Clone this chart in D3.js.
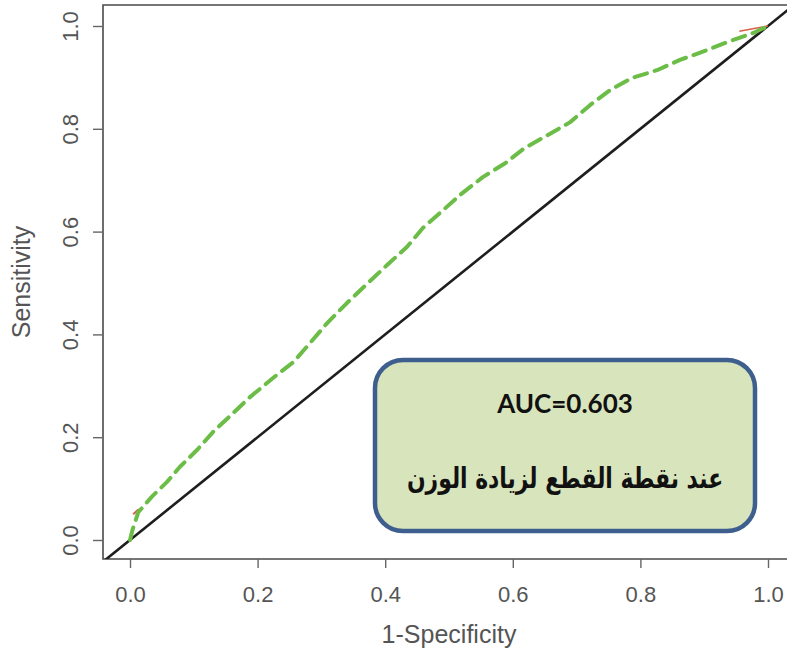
<!DOCTYPE html>
<html>
<head>
<meta charset="utf-8">
<script src="https://cdn.jsdelivr.net/npm/d3@7/dist/d3.min.js"></script>
<style>
html,body{margin:0;padding:0;background:#fff;}
svg{display:block;}
</style>
</head>
<body>
<svg id="chart" width="787" height="654"></svg>
<script>
// ---- data ----
const fpr = [0, 0.004, 0.013, 0.034, 0.058, 0.078, 0.105, 0.13, 0.16, 0.188, 0.23, 0.256, 0.282, 0.309, 0.34, 0.373, 0.403, 0.434, 0.459, 0.491, 0.517, 0.553, 0.588, 0.619, 0.655, 0.69, 0.721, 0.752, 0.787, 0.826, 0.862, 0.904, 0.937, 0.976, 1.0];
const tpr = [0, 0.02, 0.054, 0.084, 0.113, 0.142, 0.175, 0.21, 0.245, 0.278, 0.321, 0.346, 0.383, 0.422, 0.461, 0.5, 0.535, 0.57, 0.607, 0.642, 0.671, 0.706, 0.733, 0.763, 0.788, 0.813, 0.846, 0.875, 0.899, 0.914, 0.934, 0.953, 0.969, 0.986, 1.0];
const redStartX = [0.005, 0.012, 0.02];
const redStartY = [0.05, 0.058, 0.062];
const redEndX = [0.955, 0.978, 1.0];
const redEndY = [0.99, 0.995, 1.0];
const diagX = [-0.1, 1.1];
const diagY = [-0.1, 1.1];
const xTicks = [0, 0.2, 0.4, 0.6, 0.8, 1.0];
const yTicks = [0, 0.2, 0.4, 0.6, 0.8, 1.0];
const xTitle = "1-Specificity";
const yTitle = "Sensitivity";
const aucLabel = "AUC=0.603";
const noteLabel = "عند نقطة القطع لزيادة الوزن";

// ---- layout ----
const svg = d3.select("#chart");
const plot = {left: 103, top: 5, right: 795, bottom: 559};
const x = d3.scaleLinear().domain([0, 1]).range([130, 768]);
const y = d3.scaleLinear().domain([0, 1]).range([540, 26]);

svg.append("defs").append("clipPath").attr("id", "clip")
  .append("rect").attr("x", plot.left).attr("y", plot.top)
  .attr("width", plot.right - plot.left).attr("height", plot.bottom - plot.top);

const frameColor = "#4a4a4a";
const labelColor = "#555";
const axisFont = "'Liberation Sans', Arial, sans-serif";

// frame lines (top, left, bottom)
svg.append("path")
  .attr("d", `M${plot.right},${plot.top}H${plot.left}V${plot.bottom}H${plot.right}`)
  .attr("fill", "none").attr("stroke", frameColor).attr("stroke-width", 1.6);

// x axis
const gx = svg.append("g").attr("transform", `translate(0,${plot.bottom})`)
  .call(d3.axisBottom(x).tickValues(xTicks).tickFormat(d3.format(".1f")).tickSize(9).tickSizeOuter(0));
gx.select(".domain").remove();
gx.selectAll("line").attr("stroke", "#666").attr("stroke-width", 1.4);
gx.selectAll("text").attr("y", 43).attr("dy", 0)
  .attr("fill", labelColor).style("font-family", axisFont).style("font-size", "22px");

// y axis
const gy = svg.append("g").attr("transform", `translate(${plot.left},0)`)
  .call(d3.axisLeft(y).tickValues(yTicks).tickFormat(d3.format(".1f")).tickSize(10).tickSizeOuter(0));
gy.select(".domain").remove();
gy.selectAll("line").attr("stroke", "#666").attr("stroke-width", 1.4);
gy.selectAll("text").attr("x", 0).attr("y", -25).attr("dy", 0)
  .attr("transform", "rotate(-90)").attr("text-anchor", "middle")
  .attr("fill", labelColor).style("font-family", axisFont).style("font-size", "22px");

// axis titles
svg.append("text").attr("x", (plot.left + plot.right) / 2).attr("y", 643)
  .attr("text-anchor", "middle").attr("fill", labelColor)
  .style("font-family", axisFont).style("font-size", "25px").text(xTitle);
svg.append("text").attr("transform", `translate(30,${(plot.top + plot.bottom) / 2}) rotate(-90)`)
  .attr("text-anchor", "middle").attr("fill", labelColor)
  .style("font-family", axisFont).style("font-size", "25px").text(yTitle);

// plot contents
const g = svg.append("g").attr("clip-path", "url(#clip)");
const line = d3.line().x(d => x(d[0])).y(d => y(d[1]));

g.append("path").datum(d3.zip(diagX, diagY)).attr("d", line)
  .attr("fill", "none").attr("stroke", "#1e1e1e").attr("stroke-width", 2.6);

g.append("path").datum(d3.zip(redStartX, redStartY)).attr("d", line)
  .attr("fill", "none").attr("stroke", "#d9604a").attr("stroke-width", 2);
g.append("path").datum(d3.zip(redEndX, redEndY)).attr("d", line)
  .attr("fill", "none").attr("stroke", "#d9604a").attr("stroke-width", 1.5);

g.append("path").datum(d3.zip(fpr, tpr)).attr("d", line)
  .attr("fill", "none").attr("stroke", "#6cbd47").attr("stroke-width", 4)
  .attr("stroke-dasharray", "13,8").attr("stroke-linecap", "round").attr("stroke-linejoin", "round");

// annotation box
const box = {x: 375, y: 360, w: 380, h: 171};
svg.append("rect").attr("x", box.x).attr("y", box.y).attr("width", box.w).attr("height", box.h)
  .attr("rx", 28).attr("ry", 28)
  .attr("fill", "#d8e4bc").attr("stroke", "#3e5f8e").attr("stroke-width", 4.5);
svg.append("text").attr("x", box.x + box.w / 2).attr("y", 413).attr("text-anchor", "middle")
  .attr("fill", "#111").style("font-family", "Lato, 'Open Sans', sans-serif")
  .style("font-weight", "bold").style("font-size", "26px").text(aucLabel);
const noteG = svg.append("g").attr("transform", `translate(${box.x + box.w / 2},488) scale(1,1.3)`);
const note = noteG.append("text").attr("x", 0).attr("y", 0).attr("text-anchor", "middle")
  .attr("fill", "#111").style("font-family", "'DejaVu Sans', sans-serif")
  .style("font-weight", "bold").style("font-size", "22px").text(noteLabel);
const nw = note.node().getComputedTextLength();
if (nw > 0) note.style("font-size", (22 * 316 / nw).toFixed(2) + "px");
</script>
</body>
</html>
